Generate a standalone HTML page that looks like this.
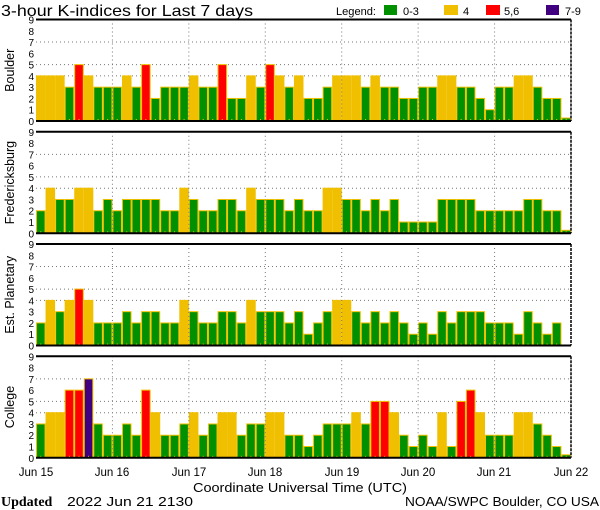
<!DOCTYPE html>
<html><head><meta charset="utf-8"><style>
html,body{margin:0;padding:0;background:#fff;}
svg{display:block;font-family:"Liberation Sans",sans-serif;}
</style></head><body>
<svg id="s" width="600" height="510" viewBox="0 0 600 510" xmlns="http://www.w3.org/2000/svg">
<rect width="600" height="510" fill="#fff"/>
<text x="1" y="16" font-size="16" fill="#000" textLength="252" lengthAdjust="spacingAndGlyphs">3-hour K-indices for Last 7 days</text>
<text x="336" y="15" font-size="11" fill="#000" textLength="40" lengthAdjust="spacingAndGlyphs">Legend:</text>
<rect x="384" y="5" width="13" height="10" fill="#009000"/><text x="403" y="15" font-size="11">0-3</text>
<rect x="444" y="5" width="14" height="10" fill="#f0c000"/><text x="463" y="15" font-size="11">4</text>
<rect x="486" y="5" width="14" height="10" fill="#ff0000"/><text x="504" y="15" font-size="11">5,6</text>
<rect x="546" y="5" width="13" height="10" fill="#400080"/><text x="565" y="15" font-size="11">7-9</text>
<g id="g"></g>
<g font-size="11.5" text-anchor="middle">
<text x="36" y="476">Jun 15</text><text x="112" y="476">Jun 16</text><text x="189" y="476">Jun 17</text><text x="265" y="476">Jun 18</text><text x="342" y="476">Jun 19</text><text x="418" y="476">Jun 20</text><text x="494" y="476">Jun 21</text><text x="571" y="476">Jun 22</text>
</g>
<text x="193" y="492" font-size="13" textLength="214" lengthAdjust="spacingAndGlyphs">Coordinate Universal Time (UTC)</text>
<text x="1" y="506" font-size="14" font-family="Liberation Serif,serif" font-weight="bold">Updated</text>
<text x="67" y="506" font-size="13" textLength="126" lengthAdjust="spacingAndGlyphs">2022 Jun 21 2130</text>
<text x="405" y="506" font-size="13" textLength="194" lengthAdjust="spacingAndGlyphs">NOAA/SWPC Boulder, CO USA</text>
</svg>
<script>
var data=[
["Boulder",19.5,[4,4,4,3,5,4,3,3,3,4,3,5,2,3,3,3,4,3,3,5,2,2,4,3,5,4,3,4,2,2,3,4,4,4,3,4,3,3,2,2,3,3,4,4,3,3,2,1,3,3,4,4,3,2,2,0]],
["Fredericksburg",131.8,[2,4,3,3,4,4,2,3,2,3,3,3,3,2,2,4,3,2,2,3,3,2,4,3,3,3,2,3,2,2,4,4,3,3,2,3,2,3,1,1,1,1,3,3,3,3,2,2,2,2,2,3,3,2,2,0]],
["Est. Planetary",244,[2,4,3,4,5,4,2,2,2,3,2,3,3,2,2,4,3,2,2,3,3,2,4,3,3,3,2,3,1,2,3,4,4,3,2,3,2,3,2,1,2,1,3,2,3,3,3,2,2,2,1,3,2,1,2,-1]],
["College",356.3,[3,4,4,6,6,7,3,2,2,3,2,6,4,2,2,3,4,2,3,4,4,2,3,3,4,4,2,2,1,2,3,3,3,4,3,5,5,4,2,1,2,1,4,1,5,6,4,2,2,2,4,4,3,2,1,0]]
];
var g=document.getElementById("g"),h="";
var X0=36,X1=571,W=(X1-X0)/56,H=101.5,U=H/9;
function col(v){return v<=3?"#009000":v==4?"#f0c000":v<=6?"#ff0000":"#400080";}
data.forEach(function(p){
 var top=p[1],z=top+H;
 [4,5,7].forEach(function(k){var y=z-k*U;h+='<line x1="'+X0+'" x2="'+X1+'" y1="'+y+'" y2="'+y+'" stroke="#777" stroke-width="1" stroke-dasharray="1,3"/>';});
 p[2].forEach(function(v,i){if(v<0)return;var x=X0+i*W,hh=v==0?3:v*U;
  h+='<rect x="'+(x+0.5)+'" y="'+(z-hh)+'" width="'+(W-1)+'" height="'+hh+'" fill="'+col(v)+'" stroke="#f0c000" stroke-width="1"/>';
  h+='<rect x="'+(x+W/2-0.5)+'" y="'+(z-2)+'" width="1" height="2" fill="#f0c000"/>';});
 for(var d=1;d<7;d++){var x=X0+d*(X1-X0)/7;h+='<line x1="'+x+'" x2="'+x+'" y1="'+top+'" y2="'+z+'" stroke="#777" stroke-width="1" stroke-dasharray="1,3"/>';}
 h+='<line x1="'+X0+'" x2="'+X1+'" y1="'+top+'" y2="'+top+'" stroke="#000" stroke-width="2"/>';
 h+='<line x1="'+X0+'" x2="'+X1+'" y1="'+z+'" y2="'+z+'" stroke="#000" stroke-width="2"/>';
 h+='<line x1="'+X1+'" x2="'+X1+'" y1="'+top+'" y2="'+z+'" stroke="#000" stroke-width="1.5" stroke-dasharray="3,1"/>';
 for(var k=0;k<=9;k++){h+='<text x="34" y="'+(z-k*U+4)+'" font-size="10" text-anchor="end">'+k+'</text>';}
 var cy=top+H/2;
 h+='<text x="0" y="0" font-size="12.5" text-anchor="middle" transform="translate(14,'+cy+') rotate(-90)">'+p[0]+'</text>';
});
g.innerHTML=h;
</script>
</body></html>
